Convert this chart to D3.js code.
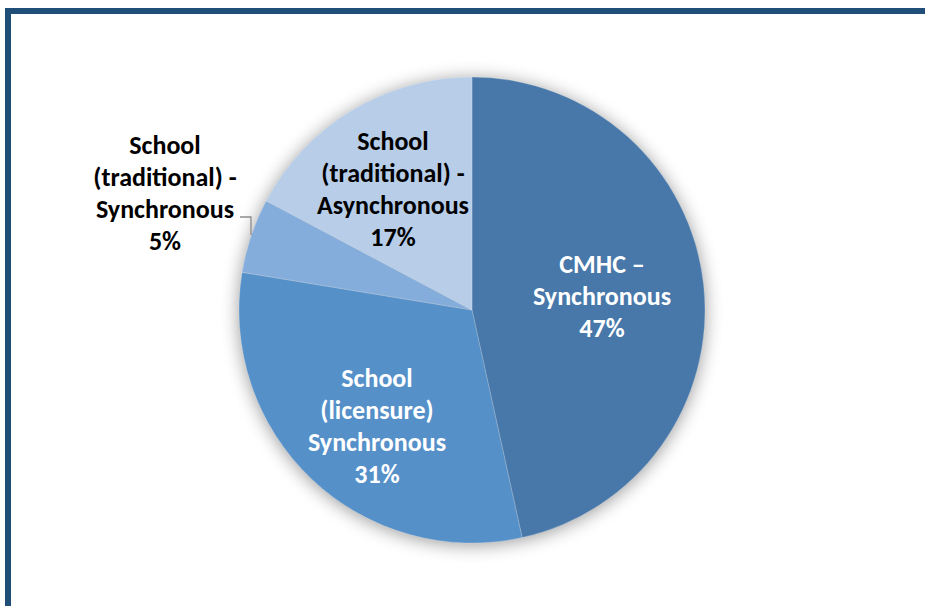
<!DOCTYPE html>
<html>
<head>
<meta charset="utf-8">
<script src="https://cdn.jsdelivr.net/npm/d3@7"></script>
<style>
  html, body { margin: 0; padding: 0; background: #fff; }
  svg { display: block; }
</style>
</head>
<body>
<svg id="chart" width="925" height="606"></svg>
<script>
const categories = [
  ["CMHC –", "Synchronous"],
  ["School", "(licensure)", "Synchronous"],
  ["School", "(traditional) -", "Synchronous"],
  ["School", "(traditional) -", "Asynchronous"]
];
// counts (percent labels: 47%, 31%, 5%, 17%)
const values = [27, 18, 3, 10];
const colors = ["#4778a9", "#5590c9", "#85addc", "#b7cde8"];
const labelColors = ["#ffffff", "#ffffff", "#000000", "#000000"];

const svg = d3.select("#chart");
const cx = 472, cy = 310, R = 233;
const total = d3.sum(values);
const pct = d3.format(".0%");

// frame
svg.append("rect")
  .attr("x", 8).attr("y", 11)
  .attr("width", 960).attr("height", 640)
  .attr("fill", "none")
  .attr("stroke", "#1f4e79")
  .attr("stroke-width", 6);

const defs = svg.append("defs");
const f = defs.append("filter").attr("id", "shadow")
  .attr("x", "-20%").attr("y", "-20%").attr("width", "140%").attr("height", "140%");
f.append("feGaussianBlur").attr("in", "SourceAlpha").attr("stdDeviation", 9);
f.append("feOffset").attr("dx", 0).attr("dy", 2).attr("result", "b");
f.append("feComponentTransfer").append("feFuncA").attr("type", "linear").attr("slope", 0.4);

const g = svg.append("g").attr("transform", `translate(${cx},${cy})`);

g.append("circle").attr("r", R).attr("fill", "#000").attr("filter", "url(#shadow)");

const pie = d3.pie().sort(null).value(d => d)(values);
const arc = d3.arc().innerRadius(0).outerRadius(R);

g.selectAll("path.slice").data(pie).enter().append("path")
  .attr("class", "slice")
  .attr("d", arc)
  .attr("fill", (d, i) => colors[i])
  .attr("stroke", "#ffffff")
  .attr("stroke-opacity", 0.25)
  .attr("stroke-width", 0.8);

// label anchors relative to pie centre (layout)
const labelOffsets = [[130, -14], [-95, 116], [-307, -117], [-79, -121]];
const lineH = 32;
const fontSize = 26;

pie.forEach((d, i) => {
  const lines = categories[i].concat([pct(values[i] / total)]);
  const lx = cx + labelOffsets[i][0];
  const ly = cy + labelOffsets[i][1];
  const t = svg.append("text")
    .attr("text-anchor", "middle")
    .attr("font-family", "Carlito, Calibri, Lato, 'Open Sans', sans-serif")
    .attr("font-weight", "bold")
    .attr("font-size", fontSize)
    .attr("fill", labelColors[i]);
  const n = lines.length;
  lines.forEach((ln, k) => {
    t.append("tspan")
      .attr("x", lx)
      .attr("y", ly + (k - (n - 1) / 2) * lineH + 8.5)
      .text(ln);
  });
});

// leader line for the small slice
svg.append("polyline")
  .attr("points", `${cx - 232},${cy - 93} ${cx - 221},${cy - 93} ${cx - 221},${cy - 75}`)
  .attr("fill", "none")
  .attr("stroke", "#8c8c8c")
  .attr("stroke-width", 1.3);
</script>
</body>
</html>
